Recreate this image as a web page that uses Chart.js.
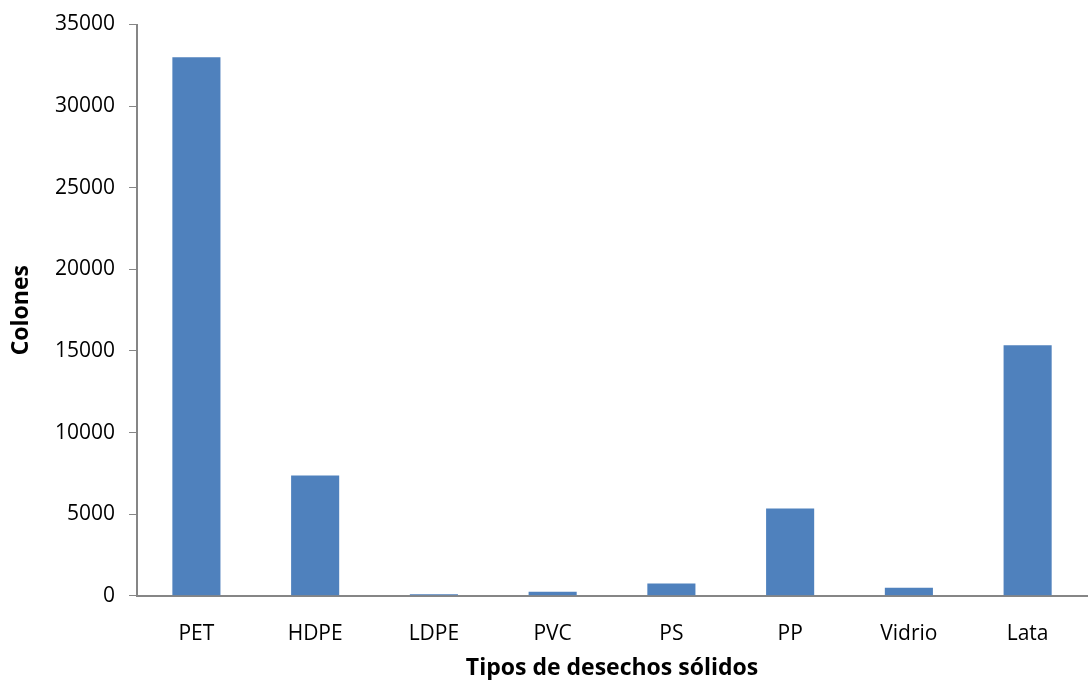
<!DOCTYPE html>
<html>
<head>
<meta charset="utf-8">
<script src="https://cdn.jsdelivr.net/npm/chart.js@4/dist/chart.umd.min.js"></script>
<style>
  html, body { margin: 0; padding: 0; background: #fff; }
  #wrap { width: 1090px; height: 680px; }
</style>
</head>
<body>
<div id="wrap"><canvas id="chart" width="1090" height="680"></canvas></div>
<script>
// tipos de desechos y su valor en colones
const categorias = ['PET', 'HDPE', 'LDPE', 'PVC', 'PS', 'PP', 'Vidrio', 'Lata'];
const colones = [33000, 7370, 100, 250, 750, 5350, 500, 15350];
const ticksY = [0, 5000, 10000, 15000, 20000, 25000, 30000, 35000];

const gris = '#868686';
const fuente = "'Open Sans', 'Liberation Sans', sans-serif";

new Chart(document.getElementById('chart').getContext('2d'), {
    type: 'bar',
    data: {
        labels: categorias,
        datasets: [{
            data: colones,
            backgroundColor: '#4F81BD',
            borderWidth: 0,
            barPercentage: 0.405,
            categoryPercentage: 1
        }]
    },
    options: {
        responsive: false,
        animation: false,
        layout: { padding: { top: 0, right: 3, left: 10, bottom: 0 } },
        plugins: { legend: { display: false }, tooltip: { enabled: false } },
        scales: {
            x: {
                grid: { display: false, drawTicks: false },
                border: { color: gris, width: 2 },
                ticks: { color: '#000', font: { family: fuente, size: 21 }, padding: 26 },
                title: {
                    display: true,
                    text: 'Tipos de desechos sólidos',
                    color: '#000',
                    font: { family: fuente, size: 23, weight: 'bold', lineHeight: 1 },
                    padding: { top: -16, bottom: 0 }
                }
            },
            y: {
                min: 0,
                max: 35000,
                afterBuildTicks: (axis) => { axis.ticks = ticksY.map(v => ({ value: v })); },
                grid: { drawOnChartArea: false, drawTicks: true, tickLength: 8, color: gris, lineWidth: 1 },
                border: { color: gris, width: 2 },
                ticks: {
                    color: '#000',
                    font: { family: fuente, size: 21, lineHeight: 1 },
                    padding: 14,
                    callback: (v) => String(v)
                },
                title: {
                    display: true,
                    text: 'Colones',
                    color: '#000',
                    font: { family: fuente, size: 23, weight: 'bold', lineHeight: 1 },
                    padding: { top: 0, bottom: 8 }
                }
            }
        }
    }
});
</script>
</body>
</html>
